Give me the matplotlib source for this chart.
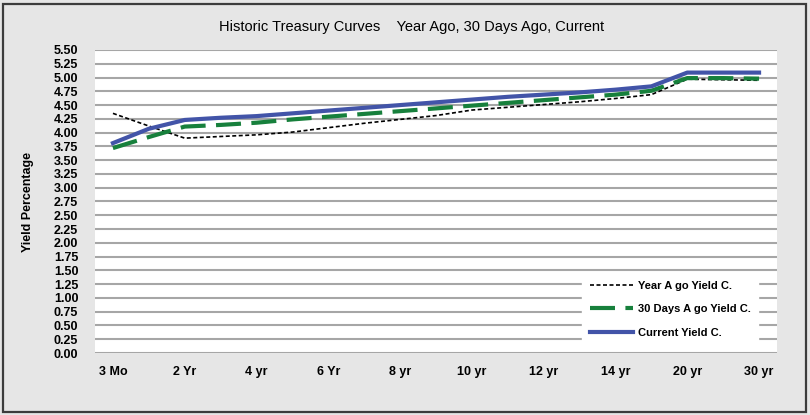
import matplotlib
matplotlib.use("Agg")
import matplotlib.pyplot as plt
from matplotlib.patches import Rectangle

plt.rcParams['font.family'] = ['Liberation Sans', 'DejaVu Sans']

# categories (half steps on the axis, only every other one labelled)
categories = ["3 Mo", "1 Yr", "2 Yr", "3 Yr", "4 yr", "5 Yr", "6 Yr", "7 Yr", "8 yr", "9 yr",
              "10 yr", "11 yr", "12 yr", "13 yr", "14 yr", "17 yr", "20 yr", "25 yr", "30 yr"]
tick_labels = ["3 Mo", "2 Yr", "4 yr", "6 Yr", "8 yr", "10 yr", "12 yr", "14 yr", "20 yr", "30 yr"]

year_ago = [4.35, 4.12, 3.90, 3.93, 3.96, 4.01, 4.09, 4.17, 4.24, 4.31,
            4.41, 4.46, 4.51, 4.56, 4.62, 4.69, 4.97, 4.96, 4.95]
days_30_ago = [3.72, 3.92, 4.11, 4.14, 4.18, 4.24, 4.29, 4.34, 4.39, 4.44,
               4.49, 4.54, 4.59, 4.64, 4.69, 4.76, 4.99, 4.99, 4.98]
current = [3.81, 4.07, 4.23, 4.27, 4.30, 4.35, 4.40, 4.45, 4.50, 4.55,
           4.60, 4.65, 4.69, 4.73, 4.78, 4.84, 5.09, 5.09, 5.09]

y_ticks = [i * 0.25 for i in range(23)]

W, H = 810, 415
fig = plt.figure(figsize=(W / 100, H / 100), dpi=100, facecolor="#E6E6E6")
fig.patches.append(Rectangle((3 / W, 3 / H), 803 / W, 408 / H, transform=fig.transFigure,
                             fill=False, edgecolor="#3C3C3C", linewidth=1.6))

ax = fig.add_axes([95 / W, (H - 353) / H, (777 - 95) / W, (353 - 50) / H])
ax.set_facecolor("white")

x = list(range(len(categories)))
ax.plot(x, year_ago, color="black", linewidth=1.2, dashes=(2.4, 1.5), label="Year A go Yield C.", zorder=3)
ax.plot(x, days_30_ago, color="#17803C", linewidth=3, dashes=(6, 2.5), label="30 Days A go Yield C.", zorder=4)
ax.plot(x, current, color="#4254A8", linewidth=3, label="Current Yield C.", zorder=5)

ax.set_xlim(-0.5, len(categories) - 0.5)
ax.set_ylim(0, 5.5)
ax.set_yticks(y_ticks)
ax.set_yticklabels([f"{v:.2f}" for v in y_ticks], fontsize=9, fontweight="bold")
ax.set_xticks(x[::2])
ax.set_xticklabels(tick_labels, fontsize=9, fontweight="bold")
ax.tick_params(axis="both", length=0)
ax.tick_params(axis="y", pad=12)
ax.tick_params(axis="x", pad=9)
ax.grid(axis="y", color="#A6A6A6", linewidth=1.5)
ax.set_axisbelow(True)
for s in ax.spines.values():
    s.set_visible(False)

ax.set_ylabel("Yield Percentage", fontsize=9, fontweight="bold")
ax.yaxis.set_label_coords(-0.089, 0.5)

fig.text(412 / W, 1 - 27 / H, "Historic Treasury Curves    Year Ago, 30 Days Ago, Current",
         ha="center", va="center", fontsize=10.5)

leg = ax.legend(loc="lower right", bbox_to_anchor=(764 / W, (H - 351) / H),
                bbox_transform=fig.transFigure, frameon=True, fancybox=False,
                facecolor="white", edgecolor="white", framealpha=1,
                prop={"size": 8, "weight": "bold"}, handlelength=3.9,
                handletextpad=0.4, labelspacing=1.2, borderpad=0.7)
leg.set_zorder(10)

fig.savefig("out.png", dpi=100, facecolor=fig.get_facecolor())
